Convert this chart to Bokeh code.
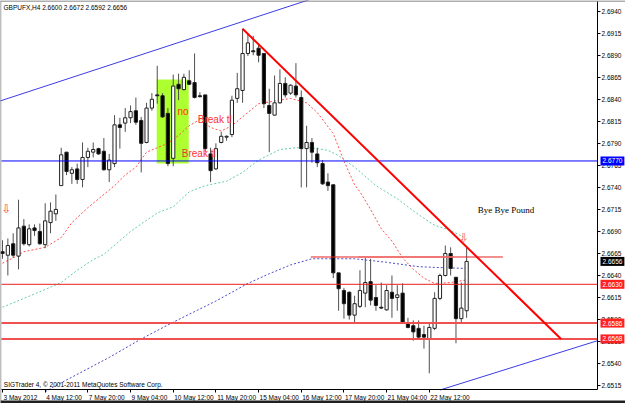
from bokeh.plotting import figure
from bokeh.models import Label, FixedTicker, Range1d, ColumnDataSource, NumeralTickFormatter, LinearAxis, Span
from bokeh.embed import file_html
from bokeh.resources import INLINE

# ---------------- data ----------------
opens = [2.6667, 2.6663, 2.6676, 2.6662, 2.6696, 2.6675, 2.6694, 2.6690, 2.6675, 2.6700,
         2.6710, 2.6742, 2.6780, 2.6756, 2.6761, 2.6749, 2.6774, 2.6780, 2.6784, 2.6781,
         2.6760, 2.6767, 2.6811, 2.6813, 2.6819, 2.6827, 2.6816, 2.6791, 2.6830, 2.6845,
         2.6844, 2.6824, 2.6773, 2.6857, 2.6851, 2.6861, 2.6859, 2.6844, 2.6845, 2.6778,
         2.6761, 2.6791, 2.6797, 2.6800, 2.6841, 2.6850, 2.6892, 2.6895, 2.6898, 2.6892,
         2.6833, 2.6822, 2.6836, 2.6858, 2.6847, 2.6855, 2.6842, 2.6784, 2.6791, 2.6778,
         2.6767, 2.6746, 2.6743, 2.6643, 2.6623, 2.6621, 2.6595, 2.6605, 2.6620, 2.6633,
         2.6615, 2.6604, 2.6601, 2.6621, 2.6615, 2.6620, 2.6586, 2.6583, 2.6580, 2.6573,
         2.6568, 2.6580, 2.6614, 2.6640, 2.6665, 2.6638, 2.6591, 2.6600]
highs = [2.6680, 2.6682, 2.6688, 2.6726, 2.6704, 2.6698, 2.6698, 2.6699, 2.6722, 2.6723,
         2.6732, 2.6785, 2.6780, 2.6763, 2.6767, 2.6791, 2.6785, 2.6791, 2.6785, 2.6796,
         2.6778, 2.6822, 2.6819, 2.6830, 2.6833, 2.6842, 2.6820, 2.6836, 2.6847, 2.6878,
         2.6847, 2.6830, 2.6868, 2.6869, 2.6869, 2.6873, 2.6892, 2.6848, 2.6845, 2.6785,
         2.6790, 2.6803, 2.6799, 2.6844, 2.6870, 2.6920, 2.6915, 2.6912, 2.6903, 2.6892,
         2.6852, 2.6867, 2.6874, 2.6865, 2.6857, 2.6881, 2.6850, 2.6810, 2.6796, 2.6785,
         2.6771, 2.6756, 2.6743, 2.6643, 2.6626, 2.6622, 2.6617, 2.6646, 2.6660, 2.6659,
         2.6629, 2.6632, 2.6629, 2.6640, 2.6629, 2.6631, 2.6592, 2.6589, 2.6589, 2.6583,
         2.6587, 2.6621, 2.6642, 2.6674, 2.6672, 2.6638, 2.6632, 2.6672]
lows = [2.6659, 2.6640, 2.6660, 2.6647, 2.6674, 2.6673, 2.6685, 2.6675, 2.6671, 2.6688,
        2.6702, 2.6742, 2.6754, 2.6744, 2.6744, 2.6740, 2.6763, 2.6774, 2.6777, 2.6759,
        2.6746, 2.6763, 2.6784, 2.6803, 2.6813, 2.6811, 2.6757, 2.6790, 2.6827, 2.6835,
        2.6819, 2.6764, 2.6764, 2.6839, 2.6850, 2.6856, 2.6841, 2.6842, 2.6780, 2.6746,
        2.6760, 2.6790, 2.6793, 2.6797, 2.6836, 2.6836, 2.6889, 2.6890, 2.6882, 2.6830,
        2.6780, 2.6822, 2.6835, 2.6842, 2.6845, 2.6842, 2.6740, 2.6740, 2.6768, 2.6763,
        2.6743, 2.6736, 2.6637, 2.6600, 2.6591, 2.6590, 2.6587, 2.6603, 2.6604, 2.6606,
        2.6600, 2.6602, 2.6600, 2.6592, 2.6600, 2.6586, 2.6580, 2.6566, 2.6568, 2.6557,
        2.6529, 2.6578, 2.6612, 2.6639, 2.6640, 2.6563, 2.6586, 2.6592]
closes = [2.6665, 2.6674, 2.6663, 2.6694, 2.6676, 2.6693, 2.6691, 2.6676, 2.6702, 2.6713,
          2.6715, 2.6777, 2.6758, 2.6760, 2.6749, 2.6774, 2.6781, 2.6783, 2.6778, 2.6760,
          2.6771, 2.6811, 2.6808, 2.6819, 2.6826, 2.6814, 2.6790, 2.6830, 2.6840, 2.6844,
          2.6820, 2.6767, 2.6855, 2.6852, 2.6865, 2.6857, 2.6842, 2.6843, 2.6784, 2.6759,
          2.6784, 2.6798, 2.6798, 2.6839, 2.6852, 2.6892, 2.6904, 2.6894, 2.6890, 2.6835,
          2.6824, 2.6836, 2.6858, 2.6845, 2.6856, 2.6845, 2.6784, 2.6791, 2.6780, 2.6768,
          2.6744, 2.6742, 2.6643, 2.6625, 2.6608, 2.6595, 2.6608, 2.6623, 2.6632, 2.6612,
          2.6606, 2.6603, 2.6623, 2.6614, 2.6618, 2.6587, 2.6581, 2.6576, 2.6570, 2.6570,
          2.6581, 2.6614, 2.6640, 2.6665, 2.6648, 2.6591, 2.6603, 2.6656]

time_ticks = [0, 8, 16, 24, 32, 40, 48, 56, 64, 72, 80]
time_labels = ["3 May 2012", "4 May 12:00", "7 May 20:00", "9 May 04:00", "10 May 12:00",
               "11 May 20:00", "15 May 04:00", "16 May 12:00", "17 May 20:00",
               "21 May 04:00", "22 May 12:00"]
price_ticks = [2.6515, 2.6540, 2.6565, 2.6590, 2.6615, 2.6640, 2.6665, 2.6690, 2.6715,
               2.6740, 2.6765, 2.6790, 2.6815, 2.6840, 2.6865, 2.6890, 2.6915, 2.6940]

# moving averages
ma_red_x = [0, 2, 4, 8, 11, 13, 16, 18, 21, 23, 25, 27, 29, 31, 33, 35, 37, 39, 41, 43, 45,
            48, 52, 54, 57, 59, 62, 64, 66, 67, 69, 71, 73, 75, 77, 79, 81, 84, 87]
ma_red_y = [2.6654, 2.6660, 2.6667, 2.6672, 2.6683, 2.6700, 2.6717, 2.6727, 2.6742, 2.6754,
            2.6763, 2.6780, 2.6785, 2.6790, 2.6799, 2.6810, 2.6817, 2.6808, 2.6804, 2.6810,
            2.6820, 2.6835, 2.6839, 2.6841, 2.6836, 2.6825, 2.6801, 2.6770, 2.6743, 2.6735,
            2.6715, 2.6693, 2.6679, 2.6660, 2.6647, 2.6637, 2.6631, 2.6632, 2.6635]
ma_teal_x = [0, 6, 11, 14, 17, 19, 24, 29, 32, 35, 38, 42, 45, 48, 52, 55, 58, 61, 63, 66,
             70, 74, 78, 81, 84, 87]
ma_teal_y = [2.6604, 2.6619, 2.6632, 2.6646, 2.6658, 2.6664, 2.6690, 2.6711, 2.6718, 2.6735,
             2.6742, 2.6747, 2.6757, 2.6771, 2.6783, 2.6785, 2.6785, 2.6782, 2.6776, 2.6763,
             2.6742, 2.6727, 2.6709, 2.6697, 2.6691, 2.6682]
ma_blue_x = [8, 10, 20, 26, 32, 40, 46, 50, 54, 58, 62, 66, 72, 78, 82, 87]
ma_blue_y = [2.6508, 2.6515, 2.6547, 2.6568, 2.6587, 2.6611, 2.6631, 2.6642, 2.6652, 2.6659,
             2.6659, 2.6659, 2.6655, 2.6650, 2.6649, 2.6648]

# drawn objects
level_blue = 2.6770
level_red = 2.6630
levels_pink = [2.6586, 2.6568]
seg_level = 2.6661
seg_x = [57.8, 93.8]
seg_pink_x = [66.7, 84.6]
chan_up_x = [-1, 60]
chan_up_y = [2.6837, 2.6958]
chan_low_x = [82, 111.53]
chan_low_y = [2.6510, 2.6566]
trend_x = [45, 104.7]
trend_y = [2.6920, 2.6568]
box_x = [28.9, 34.9]
box_y = [2.6767, 2.68625]

tag_prices = [2.6770, 2.6656, 2.6630, 2.6586, 2.6568]
tag_colors = ["#0000FF", "#000000", "#FF2020", "#FF2020", "#FF2020"]

# ---------------- layout constants ----------------
X0, X1 = -0.19, 111.53          # chart area in bars
Y0, Y1 = 2.65106, 2.69510       # chart area in price
BAR_PX = 5.335
PX_PRICE = 0.00011351
FONT = "Liberation Sans"
FS = 6.5

p = figure(width=625, height=403, output_backend="svg", toolbar_location=None,
           x_range=Range1d(X0 - 1 / BAR_PX, X1 + 28 / BAR_PX),
           y_range=Range1d(Y0 - 14 * PX_PRICE, Y1 + 1 * PX_PRICE),
           x_axis_location=None, y_axis_location=None, min_border=0)
p.grid.visible = False
p.outline_line_color = None
p.background_fill_color = "white"
p.border_fill_color = "white"

# right price axis, drawn at the chart edge
ya = LinearAxis(fixed_location=X1, bounds=(Y0, Y1),
                ticker=FixedTicker(ticks=price_ticks),
                formatter=NumeralTickFormatter(format="0.0000"))
ya.major_tick_out = 3
ya.major_tick_in = 0
ya.minor_tick_out = 0
ya.minor_tick_in = 0
ya.major_label_standoff = 1
ya.major_label_text_font = FONT
ya.major_label_text_font_size = f"{FS}px"
ya.major_label_text_color = "black"
ya.axis_line_color = "black"
ya.major_tick_line_color = "black"
p.add_layout(ya, "right")

# bottom time axis: labels start at their tick (MT4 style)
CW = {"M": 0.833, "a": 0.556, "y": 0.5, " ": 0.278, ":": 0.278}
def text_w(s):
    return sum(CW.get(ch, 0.556) for ch in s) * FS

label_pos = [t + (1 + text_w(s) / 2) / BAR_PX for t, s in zip(time_ticks, time_labels)]
xa = LinearAxis(fixed_location=Y0, bounds=(X0, X1),
                ticker=FixedTicker(ticks=label_pos, minor_ticks=time_ticks))
xa.major_label_overrides = {pos: s for pos, s in zip(label_pos, time_labels)}
xa.major_tick_out = 0
xa.major_tick_in = 0
xa.minor_tick_out = 3
xa.minor_tick_in = 0
xa.major_label_standoff = 2
xa.major_label_text_font = FONT
xa.major_label_text_font_size = f"{FS}px"
xa.major_label_text_color = "black"
xa.axis_line_color = "black"
xa.minor_tick_line_color = "black"
p.add_layout(xa, "below")

# window borders
p.add_layout(Span(location=X0 - 0.8 / BAR_PX, dimension="height", line_color="#606060", line_width=1))
p.add_layout(Span(location=Y1 + 0.5 * PX_PRICE, dimension="width", line_color="#606060", line_width=1))
p.add_layout(Span(location=Y0 - 12.5 * PX_PRICE, dimension="width", line_color="#202020", line_width=3))

# green highlight box
p.quad(left=box_x[0], right=box_x[1], bottom=box_y[0], top=box_y[1],
       fill_color="#ADFF2F", line_color=None)

# moving averages
p.line(ma_teal_x, ma_teal_y, line_color="#66CDAA", line_width=1, line_dash="2 2")
p.line(ma_blue_x, ma_blue_y, line_color="#4B4BC8", line_width=1, line_dash="2 2")
p.line(ma_red_x, ma_red_y, line_color="#FF5050", line_width=1, line_dash="2 2")

# candles
idx = list(range(len(opens)))
up = [c >= o for o, c in zip(opens, closes)]
src = ColumnDataSource(dict(
    x=idx, o=opens, h=highs, l=lows, c=closes,
    top=[max(o, c) for o, c in zip(opens, closes)],
    bot=[min(o, c) for o, c in zip(opens, closes)],
    fill=["white" if u else "black" for u in up],
))
p.segment(x0="x", y0="h", x1="x", y1="l", source=src, line_color="#505050", line_width=1)
p.vbar(x="x", top="top", bottom="bot", width=0.6, source=src,
       fill_color="fill", line_color="#202020", line_width=1)

# horizontal levels (limited to the chart area)
p.line([X0, X1], [level_blue, level_blue], line_color="#0000FF", line_width=1)
p.line([X0, X1], [level_red, level_red], line_color="#E82020", line_width=1)
for lv in levels_pink:
    p.line([X0, X1], [lv, lv], line_color="#F05050", line_width=2)
p.line(seg_x, [seg_level, seg_level], line_color="#E82020", line_width=1)
p.line(seg_pink_x, [seg_level, seg_level], line_color="#F07070", line_width=2, line_alpha=0.8)

# trend lines
p.line(chan_up_x, chan_up_y, line_color="#3C3CE6", line_width=1)
p.line(chan_low_x, chan_low_y, line_color="#3C3CE6", line_width=1)
p.line(trend_x, trend_y, line_color="#FF0000", line_width=2)

# texts
def lab(x, y, text, size, color, font=FONT, align="left", baseline="middle", style="normal"):
    p.add_layout(Label(x=x, y=y, text=text, text_font=font, text_font_size=size,
                       text_color=color, text_align=align, text_baseline=baseline,
                       text_font_style=style))

lab(32.8, 2.6826, "no", "10px", "#FF3010")
lab(36.6, 2.6817, "Break tl", "10px", "#FF3030")
lab(33.6, 2.6778, "Break tl", "10px", "#FF3030")
lab(89.1, 2.6714, "Bye Bye Pound", "9px", "black", font="Liberation Serif")
lab(0.75, 2.6715, "\u21e9", "12px", "#FF4040", font="DejaVu Sans", align="center")
lab(86.5, 2.6682, "\u21e9", "12px", "#FF6060", font="DejaVu Sans", align="center")
lab(0.19, 2.69482, "GBPUFX,H4  2.6600 2.6672 2.6592 2.6656", f"{FS}px", "black", baseline="top")
lab(0.25, 2.65123, "SIGTrader 4, \u00a9 2001-2011 MetaQuotes Software Corp.", f"{FS}px", "black",
    baseline="bottom")

# price tags on the right scale
for pr, col in zip(tag_prices, tag_colors):
    p.add_layout(Label(x=X1 + 3 / BAR_PX, y=pr, text=f"{pr:.4f}", text_font=FONT,
                       text_font_size=f"{FS}px", text_color="white", text_align="left",
                       text_baseline="middle", background_fill_color=col, padding=2))

open("out.html", "w").write(file_html(p, INLINE))
